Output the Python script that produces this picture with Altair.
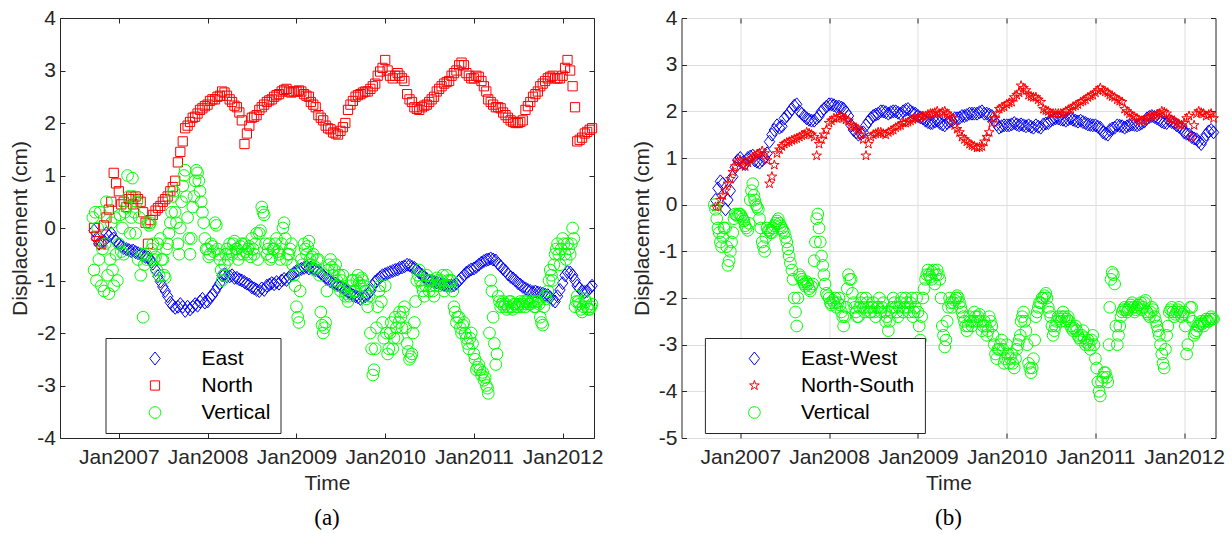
import altair as alt
import pandas as pd

# ---------------- data ----------------
# East / North components: samples on the 1st, 11th, 21st of each month,
# 2006-09-21 .. 2012-05-01  (203 values each)
EAST_A = [
    -0.05, -0.2, -0.3, -0.28, -0.25, -0.1, -0.15, -0.1, -0.2, -0.25,
    -0.3, -0.35, -0.38, -0.4, -0.42, -0.44, -0.43, -0.46, -0.48, -0.5, -0.52, -0.55,
    -0.56, -0.6, -0.68, -0.8, -0.92, -1.02, -1.12, -1.2, -1.3, -1.42, -1.48, -1.52,
    -1.5, -1.45, -1.5, -1.58, -1.5, -1.55, -1.5, -1.45, -1.48, -1.4, -1.35, -1.42,
    -1.4, -1.32, -1.28, -1.2, -1.12, -1.05, -0.9, -0.88, -0.92, -0.92, -0.9, -0.95,
    -0.95, -0.98, -1.0, -1.03, -1.06, -1.08, -1.13, -1.15, -1.18, -1.2, -1.15, -1.18,
    -1.1, -1.08, -1.05, -1.07, -1.03, -1.06, -1.0, -0.97, -0.99, -0.94, -0.9, -0.86,
    -0.82, -0.8, -0.78, -0.76, -0.74, -0.77, -0.75, -0.77, -0.8, -0.82, -0.86, -0.9,
    -0.95, -0.98, -1.02, -1.05, -1.06, -1.09, -1.12, -1.14, -1.18, -1.22, -1.25, -1.28,
    -1.3, -1.32, -1.35, -1.32, -1.3, -1.27, -1.2, -1.1, -1.02, -0.98, -0.94, -0.9,
    -0.88, -0.86, -0.84, -0.82, -0.8, -0.79, -0.76, -0.75, -0.73, -0.7, -0.71, -0.74,
    -0.76, -0.8, -0.85, -0.89, -0.93, -0.97, -1.0, -1.01, -1.03, -1.04, -1.05, -1.07,
    -1.08, -1.1, -1.1, -1.1, -1.09, -1.06, -1.0, -0.95, -0.9, -0.85, -0.82, -0.79,
    -0.77, -0.74, -0.7, -0.66, -0.63, -0.61, -0.6, -0.58, -0.6, -0.62, -0.68, -0.73,
    -0.78, -0.82, -0.88, -0.93, -0.96, -1.0, -1.05, -1.08, -1.12, -1.15, -1.18, -1.2,
    -1.22, -1.21, -1.23, -1.24, -1.25, -1.27, -1.28, -1.32, -1.37, -1.4, -1.3, -1.18,
    -1.05, -0.9, -0.84, -0.85, -0.9, -1.0, -1.1, -1.15, -1.2, -1.22, -1.2, -1.15,
    -1.1,
]
NORTH_A = [
    0.0, -0.15, -0.25, -0.3, 0.05, 0.2, 0.35, 0.5, 1.05, 0.85,
    0.7, 0.45, 0.5, 0.4, 0.55, 0.6, 0.45, 0.6, 0.55, 0.5, 0.3, 0.1,
    -0.3, 0.15, 0.25, 0.33, 0.38, 0.42, 0.5, 0.55, 0.6, 0.7, 0.78, 0.9,
    1.25, 1.45, 1.65, 1.9, 1.95, 2.02, 2.1, 2.12, 2.18, 2.25, 2.28, 2.32,
    2.35, 2.42, 2.45, 2.45, 2.5, 2.52, 2.6, 2.58, 2.52, 2.45, 2.4, 2.33,
    2.3, 2.2, 2.05, 1.6, 1.8, 1.95, 2.1, 2.12, 2.15, 2.25, 2.3, 2.35,
    2.4, 2.43, 2.45, 2.5, 2.53, 2.55, 2.6, 2.63, 2.65, 2.6, 2.58, 2.6,
    2.6, 2.62, 2.6, 2.55, 2.52, 2.5, 2.4, 2.35, 2.3, 2.15, 2.1, 2.05,
    1.95, 1.9, 1.88, 1.82, 1.8, 1.78, 1.85, 1.92, 2.0, 2.25, 2.35, 2.42,
    2.5, 2.53, 2.55, 2.58, 2.6, 2.6, 2.65, 2.7, 2.75, 2.9, 2.98, 3.05,
    3.2, 3.0, 2.9, 2.85, 2.9, 2.95, 2.9, 2.85, 2.8, 2.55, 2.45, 2.4,
    2.3, 2.27, 2.25, 2.3, 2.33, 2.35, 2.4, 2.45, 2.5, 2.6, 2.65, 2.7,
    2.75, 2.78, 2.8, 2.9, 2.95, 3.0, 3.1, 3.15, 3.1, 2.95, 2.9, 2.85,
    2.85, 2.9, 2.88, 2.8, 2.7, 2.6, 2.45, 2.4, 2.35, 2.3, 2.3, 2.28,
    2.2, 2.15, 2.1, 2.05, 2.02, 2.0, 2.0, 2.02, 2.05, 2.25, 2.32, 2.4,
    2.5, 2.55, 2.6, 2.7, 2.75, 2.8, 2.85, 2.88, 2.9, 2.85, 2.85, 2.85,
    2.9, 3.05, 3.2, 3.0, 2.7, 2.3, 1.65, 1.68, 1.72, 1.8, 1.83, 1.87,
    1.9,
]
EW_B = [
    0.1, 0.35, 0.5, 0.45, -0.1, 0.1, 0.3, 0.6, 0.8, 0.95,
    1.0, 0.9, 0.87, 1.0, 1.03, 1.05, 0.95, 0.92, 0.9, 0.95, 1.0, 1.1,
    1.35, 1.5, 1.6, 1.7, 1.65, 1.68, 1.85, 1.9, 1.97, 2.05, 2.12, 2.15,
    2.0, 1.95, 1.9, 1.85, 1.82, 1.8, 1.8, 1.85, 1.9, 2.0, 2.05, 2.1,
    2.15, 2.15, 2.13, 2.1, 2.1, 2.08, 2.05, 1.98, 1.9, 1.7, 1.6, 1.55,
    1.5, 1.52, 1.55, 1.7, 1.78, 1.85, 1.9, 1.93, 1.95, 2.0, 2.0, 1.98,
    1.95, 1.98, 2.0, 2.0, 1.97, 1.95, 2.0, 2.03, 2.05, 2.0, 1.97, 1.95,
    1.9, 1.87, 1.85, 1.8, 1.77, 1.75, 1.75, 1.78, 1.8, 1.75, 1.72, 1.7,
    1.75, 1.78, 1.8, 1.85, 1.85, 1.86, 1.9, 1.9, 1.92, 1.95, 1.95, 1.95,
    1.95, 1.98, 2.0, 1.95, 1.95, 1.93, 1.9, 1.8, 1.72, 1.65, 1.68, 1.7,
    1.7, 1.7, 1.72, 1.75, 1.72, 1.7, 1.72, 1.7, 1.68, 1.7, 1.67, 1.65,
    1.7, 1.67, 1.65, 1.72, 1.74, 1.75, 1.8, 1.83, 1.85, 1.85, 1.83, 1.82,
    1.8, 1.83, 1.85, 1.82, 1.8, 1.78, 1.8, 1.77, 1.75, 1.72, 1.71, 1.7,
    1.7, 1.67, 1.65, 1.55, 1.52, 1.5, 1.6, 1.63, 1.65, 1.7, 1.69, 1.68,
    1.65, 1.68, 1.7, 1.72, 1.71, 1.7, 1.72, 1.75, 1.78, 1.85, 1.88, 1.9,
    1.88, 1.85, 1.82, 1.78, 1.76, 1.75, 1.8, 1.77, 1.75, 1.7, 1.67, 1.65,
    1.55, 1.52, 1.5, 1.45, 1.42, 1.4, 1.35, 1.3, 1.4, 1.5, 1.57, 1.6,
    1.55,
]
NS_B = [
    -0.05, -0.05, 0.1, 0.2, 0.3, 0.45, 0.55, 0.7, 0.82, 0.92,
    0.95, 0.85, 0.82, 0.9, 0.97, 1.0, 1.05, 1.08, 1.1, 1.15, 1.1, 0.95,
    0.45, 0.6, 0.85, 1.1, 1.18, 1.25, 1.3, 1.33, 1.35, 1.38, 1.4, 1.42,
    1.45, 1.48, 1.5, 1.55, 1.53, 1.5, 1.45, 1.05, 1.3, 1.4, 1.5, 1.6,
    1.75, 1.8, 1.85, 1.85, 1.88, 1.9, 1.85, 1.82, 1.8, 1.7, 1.68, 1.65,
    1.6, 1.5, 1.4, 1.05, 1.3, 1.45, 1.5, 1.52, 1.55, 1.55, 1.52, 1.5,
    1.55, 1.58, 1.6, 1.65, 1.68, 1.7, 1.75, 1.75, 1.77, 1.8, 1.83, 1.85,
    1.85, 1.88, 1.9, 1.9, 1.93, 1.95, 1.95, 1.97, 2.0, 1.95, 1.98, 2.0,
    1.95, 1.9, 1.85, 1.7, 1.62, 1.55, 1.45, 1.4, 1.35, 1.3, 1.27, 1.25,
    1.22, 1.23, 1.25, 1.35, 1.45, 1.55, 1.75, 1.85, 1.95, 2.05, 2.08, 2.1,
    2.15, 2.18, 2.2, 2.3, 2.35, 2.4, 2.55, 2.5, 2.45, 2.35, 2.32, 2.3,
    2.3, 2.25, 2.2, 2.05, 2.02, 2.0, 1.95, 1.95, 1.95, 1.95, 1.95, 1.95,
    2.0, 2.03, 2.05, 2.1, 2.12, 2.15, 2.2, 2.22, 2.25, 2.3, 2.33, 2.35,
    2.4, 2.45, 2.5, 2.45, 2.42, 2.4, 2.35, 2.32, 2.3, 2.25, 2.22, 2.2,
    2.05, 2.0, 1.95, 1.9, 1.88, 1.85, 1.8, 1.8, 1.8, 1.85, 1.88, 1.9,
    1.9, 1.93, 1.95, 2.0, 1.98, 1.95, 1.85, 1.82, 1.8, 1.75, 1.72, 1.7,
    1.75, 1.85, 1.9, 1.45, 1.7, 1.95, 2.0, 1.97, 1.95, 1.9, 1.93, 1.95,
    1.85,
]
# Vertical components: samples on the 1st, 6th, 11th, 16th, 21st, 26th of each month,
# 2006-09-16 .. 2012-05-01  (406 values each)
VERT_A = [
    0.2, -0.8, 0.3,
    -1.0, 0.0, -0.6, 0.3, -1.1, -0.4,  -1.2, -0.3, 0.5, -0.9, -1.25, -0.6,
    0.1, -0.8, -1.1, 0.2, -0.5, -1.0,
    -0.3, 0.25, -0.45, 0.0, -0.5, 0.3,  0.4, 1.0, 0.6, -0.1, 0.2, 0.95,
    0.6, 0.3, -0.1, 0.5, -0.6, 0.2,  -0.9, -0.5, -1.7, -0.7, -0.5, -0.6,
    0.1, 0.05, 0.1, -0.4, -0.3, -0.6,  -0.55, -0.8, -0.3, -0.9, -0.2, -0.6,
    -0.6, -0.9, -0.95, -0.4, -0.3, -0.1,  0.1, 0.3, 0.6, 0.7, 0.3, 0.1,
    -0.3, -0.5, 0.0, 0.5, 0.8, 1.0,  1.1, 0.6, 0.2, -0.2, -0.5, -0.2,
    0.4, 0.6, 0.9, 1.1, 1.05, 0.9,  0.7, 0.5, 0.3, 0.1, -0.2, -0.4,
    -0.4, -0.55, -0.5, -0.3, -0.35, -0.45,  0.1, 0.05, -0.4, -0.5, -0.6, -0.8,
    -1.0, -0.9, -0.7, -0.5, -0.4, -0.6,  -0.3, -0.45, -0.5, -0.3, -0.25, -0.4,
    -0.4, -0.6, -0.5, -0.35, -0.3, -0.5,  -0.3, -0.45, -0.5, -0.4, -0.35, -0.55,
    -0.2, -0.4, -0.5, -0.3, -0.1, -0.6,  -0.1, -0.05, 0.4, 0.3, 0.25, -0.3,
    -0.5, -0.4, -0.3, -0.6, -0.55, -0.4,  -0.4, -0.3, -0.2, -0.45, -0.5, -0.6,
    -0.3, 0.0, 0.1, -0.2, -0.6, -0.5,  -0.5, -0.4, -0.3, -0.7, -0.9, -1.1,
    -1.5, -1.7, -1.8, -1.2, -0.6, -0.7,  -0.3, -0.4, -0.5, -0.35, -0.25, -0.6,
    -0.7, -0.55, -0.5, -0.8, -0.75, -0.6,  -0.6, -0.9, -1.6, -1.85, -2.0, -1.9,
    -1.8, -1.2, -0.8, -0.7, -0.6, -0.75,  -0.9, -0.8, -0.7, -1.0, -1.1, -0.9,
    -1.2, -1.0, -0.9, -1.15, -1.3, -1.25,  -1.4, -1.3, -1.1, -1.0, -1.0, -1.2,
    -1.2, -1.0, -0.9, -1.05, -1.1, -0.95,  -1.0, -1.1, -1.2, -1.35, -1.5, -1.3,
    -2.0, -2.3, -2.8, -2.7, -2.3, -1.9,  -1.5, -1.2, -1.1, -1.4, -1.8, -2.1,
    -1.1, -2.0, -2.4, -2.3, -2.0, -1.8,  -2.3, -2.1, -1.7, -1.9, -2.1, -1.8,
    -1.6, -1.7, -1.9, -1.6, -1.5, -1.9,  -2.2, -2.35, -2.5, -2.45, -2.4, -2.0,
    -1.8, -1.4, -1.0, -0.9, -0.8, -1.0,  -1.1, -1.2, -1.3, -1.1, -0.9, -1.0,
    -1.2, -1.1, -1.0, -1.2, -1.3, -1.1,  -0.95, -1.0, -1.1, -1.05, -1.0, -0.9,
    -1.2, -1.1, -0.9, -1.0, -1.1, -1.0,  -1.0, -1.2, -1.5, -1.6, -1.8, -1.7,
    -1.7, -1.9, -2.0, -1.85, -1.8, -2.0,  -2.1, -2.2, -2.3, -2.1, -2.0, -2.2,
    -2.4, -2.5, -2.7, -2.65, -2.6, -2.7,  -2.8, -2.75, -2.9, -2.85, -3.0, -3.05,
    -3.15, -2.0, -1.0, -1.2, -1.7, -2.2,  -2.6, -2.4, -1.3, -1.4, -1.5, -1.45,
    -1.4, -1.5, -1.45, -1.55, -1.5, -1.4,  -1.4, -1.5, -1.55, -1.45, -1.45, -1.5,
    -1.5, -1.45, -1.4, -1.5, -1.45, -1.4,  -1.5, -1.4, -1.35, -1.45, -1.45, -1.4,
    -1.4, -1.5, -1.5, -1.4, -1.4, -1.45,  -1.7, -1.8, -1.85, -1.5, -1.3, -1.35,
    -1.2, -1.0, -0.8, -0.9, -1.0, -0.7,  -0.5, -0.4, -0.3, -0.5, -0.7, -0.4,
    -0.2, -0.3, -0.5, -0.6, -0.3, -0.4,  -0.5, -0.3, 0.0, -0.2, -1.5, -1.4,
    -1.3, -1.4, -1.45, -1.55, -1.6, -1.5,  -1.35, -1.4, -1.5, -1.55, -1.55, -1.5,
    -1.45,
]
VERT_B = [
    0.0, -0.1, -0.3,
    -0.5, -0.6, -0.8, -0.9, -0.7, -0.5,  -0.5, -0.9, -1.3, -1.2, -1.0, -0.8,
    -0.6, -0.3, -0.2, -0.22, -0.25, -0.2,
    -0.2, -0.25, -0.3, -0.35, -0.45, -0.5,  -0.55, -0.4, 0.1, 0.3, 0.45, 0.2,
    0.1, 0.0, -0.05, -0.1, -0.3, -0.5,  -0.8, -0.9, -1.0, -0.7, -0.5, -0.55,
    -0.55, -0.6, -0.6, -0.5, -0.45, -0.4,  -0.35, -0.3, -0.4, -0.45, -0.5, -0.55,
    -0.6, -0.7, -0.8, -0.95, -1.1, -1.25,  -1.4, -1.6, -2.0, -2.3, -2.6, -2.0,
    -1.5, -1.55, -1.6, -1.65, -1.7, -1.75,  -1.65, -1.7, -1.8, -1.85, -1.75, -1.7,
    -1.2, -0.8, -0.3, -0.2, -0.5, -0.8,  -1.1, -1.3, -1.5, -1.7, -1.9, -1.95,
    -2.0, -2.1, -2.15, -2.05, -2.1, -2.0,  -2.2, -2.1, -2.0, -2.15, -2.3, -2.4,
    -2.6, -2.4, -2.2, -1.8, -1.5, -1.6,  -1.6, -1.9, -2.1, -2.2, -2.3, -2.4,
    -2.4, -2.2, -2.1, -2.0, -2.2, -2.3,  -2.0, -2.1, -2.2, -2.3, -2.3, -2.2,
    -2.1, -2.3, -2.4, -2.2, -2.2, -2.0,  -2.3, -2.2, -2.1, -2.3, -2.5, -2.4,
    -2.7, -2.5, -2.3, -2.2, -2.0, -2.1,  -2.2, -2.3, -2.4, -2.2, -2.1, -2.0,
    -2.3, -2.2, -2.0, -2.1, -2.2, -2.3,  -2.1, -2.0, -2.4, -2.3, -2.2, -2.0,
    -2.3, -2.6, -2.9, -2.4, -2.0, -1.8,  -1.6, -1.5, -1.4, -1.5, -1.55, -1.6,
    -1.45, -1.4, -1.7, -1.5, -1.4, -1.5,  -1.6, -2.0, -2.6, -2.8, -3.05, -2.9,
    -2.5, -2.2, -2.0, -2.1, -2.2, -2.1,  -2.05, -2.0, -1.95, -2.0, -2.1, -2.2,
    -2.3, -2.4, -2.5, -2.6, -2.7, -2.6,  -2.4, -2.5, -2.6, -2.5, -2.3, -2.4,
    -2.5, -2.4, -2.35, -2.5, -2.7, -2.6,  -2.5, -2.6, -2.8, -2.7, -2.4, -2.5,
    -2.6, -2.8, -3.0, -3.2, -3.3, -3.1,  -3.1, -3.0, -2.9, -3.1, -3.4, -3.3,
    -3.0, -3.2, -3.4, -3.3, -3.2, -3.4,  -3.5, -3.3, -3.1, -3.0, -2.9, -2.8,
    -2.5, -2.4, -2.3, -2.5, -2.7, -3.0,  -3.4, -3.5, -3.6, -3.5, -3.3, -2.9,
    -2.4, -2.3, -2.2, -2.1, -2.1, -2.0,  -2.0, -1.95, -1.9, -2.0, -2.2, -2.3,
    -2.4, -2.6, -2.8, -2.7, -2.6, -2.5,  -2.4, -2.45, -2.5, -2.4, -2.3, -2.4,
    -2.5, -2.45, -2.4, -2.5, -2.6, -2.65,  -2.7, -2.65, -2.6, -2.7, -2.8, -2.85,
    -2.9, -2.8, -2.7, -2.85, -3.0, -2.95,  -2.9, -3.0, -3.1, -2.9, -2.8, -3.0,
    -3.3, -3.5, -3.8, -4.0, -4.1, -3.8,  -3.7, -3.6, -3.6, -3.7, -3.8, -3.0,
    -2.2, -1.6, -1.45, -1.5, -1.7, -2.6,  -3.0, -2.8, -2.6, -2.4, -2.3, -2.25,
    -2.2, -2.25, -2.3, -2.25, -2.2, -2.15,  -2.1, -2.2, -2.3, -2.25, -2.2, -2.15,
    -2.15, -2.1, -2.25, -2.2, -2.1, -2.05,  -2.3, -2.35, -2.4, -2.3, -2.2, -2.25,
    -2.4, -2.5, -2.6, -2.7, -2.8, -3.0,  -3.2, -3.4, -3.5, -3.1, -2.8, -2.6,
    -2.3, -2.25, -2.2, -2.3, -2.4, -2.35,  -2.3, -2.25, -2.2, -2.3, -2.4, -2.35,
    -2.3, -2.6, -3.2, -3.0, -2.4, -2.2,  -2.2, -2.5, -2.8, -2.75, -2.7, -2.6,
    -2.6, -2.55, -2.5, -2.55, -2.6, -2.5,  -2.45, -2.5, -2.5, -2.45, -2.4, -2.45,
    -2.45,
]

NAMES_A = ["East", "North", "Vertical"]
NAMES_B = ["East-West", "North-South", "Vertical"]
COLORS = ["#0000ff", "#ff0000", "#00ff00"]
YEAR_TICKS = [2007, 2008, 2009, 2010, 2011, 2012]
YTICKS_A = [-4, -3, -2, -1, 0, 1, 2, 3, 4]
YTICKS_B = [-5, -4, -3, -2, -1, 0, 1, 2, 3, 4]


def sample_dates(days, first, last):
    out = []
    for y in range(2006, 2013):
        for m in range(1, 13):
            for d in days:
                s = f"{y}-{m:02d}-{d:02d}"
                if first <= s <= last:
                    out.append(s)
    return out


DATES_3 = sample_dates((1, 11, 21), "2006-09-21", "2012-05-01")
DATES_6 = sample_dates((1, 6, 11, 16, 21, 26), "2006-09-16", "2012-05-01")

# ---------------- styling ----------------
FONT = "Liberation Sans"
TXT = "#262626"
DIAMOND = "M0,-1L0.8,0L0,1L-0.8,0Z"
SQUARE = "M-0.71,-0.71L0.71,-0.71L0.71,0.71L-0.71,0.71Z"
CIRCLE = "M0.9,0A0.9,0.9,0,1,1,-0.9,0A0.9,0.9,0,1,1,0.9,0Z"
STAR = ("M0,-0.78L0.176,-0.243L0.742,-0.241L0.285,0.093L0.459,0.631L0,0.3"
        "L-0.459,0.631L-0.285,0.093L-0.742,-0.241L-0.176,-0.243Z")


def frame(names, series, dates):
    rows = []
    for name, vals, ds in zip(names, series, dates):
        for d, v in zip(ds, vals):
            rows.append({"date": d, "value": v, "series": name})
    return pd.DataFrame(rows)


def make_panel(df, names, shapes, ydom, yticks, grid, legend_x, caption):
    xs = alt.Scale(domain=[alt.DateTime(year=2006, month=5, date=4),
                           alt.DateTime(year=2012, month=5, date=9)])
    ys = alt.Scale(domain=ydom, nice=False, zero=False)
    xvals = [alt.DateTime(year=y, month=1, date=1) for y in YEAR_TICKS]
    legend = alt.Legend(title=None, orient="none", legendX=legend_x, legendY=320,
                        direction="vertical", strokeColor=TXT, fillColor="white",
                        padding=10, labelFont=FONT, labelFontSize=21, labelColor="#000000",
                        symbolSize=169, symbolStrokeWidth=1, symbolOffset=29,
                        labelOffset=36, rowPadding=5)
    main = alt.Chart(df).mark_point(filled=False, size=169, strokeWidth=1, opacity=1).encode(
        x=alt.X("date:T", scale=xs, axis=alt.Axis(
            orient="bottom", values=xvals, format="%b%Y", ticks=False, tickSize=0,
            domain=False, grid=grid, gridColor="#dedede", gridWidth=1,
            labelFont=FONT, labelFontSize=21, labelColor=TXT, labelPadding=8,
            labelFlush=False, labelOverlap=False, title="Time", titleFont=FONT,
            titleFontSize=21, titleFontWeight="normal", titleColor=TXT, titlePadding=5)),
        y=alt.Y("value:Q", scale=ys, axis=alt.Axis(
            orient="left", values=yticks, labelExpr="'' + datum.value", ticks=False,
            tickSize=0, domain=False, grid=grid, gridColor="#dedede", gridWidth=1,
            labelFont=FONT, labelFontSize=21, labelColor=TXT, labelPadding=4.5,
            title="Displacement (cm)", titleFont=FONT, titleFontSize=21,
            titleFontWeight="normal", titleColor=TXT, titlePadding=6)),
        color=alt.Color("series:N", scale=alt.Scale(domain=names, range=COLORS), legend=legend),
        shape=alt.Shape("series:N", scale=alt.Scale(domain=names, range=shapes), legend=legend),
    )

    def tick_axis(orient, vals):
        return alt.Axis(orient=orient, values=vals, offset=-5, tickSize=5, ticks=True,
                        tickColor=TXT, tickWidth=1, labels=False, domain=False,
                        grid=False, title=None)

    src = df.head(1)
    t1 = alt.Chart(src).mark_point(opacity=0).encode(
        x=alt.X("date:T", scale=xs, axis=tick_axis("bottom", xvals)),
        y=alt.Y("value:Q", scale=ys, axis=tick_axis("left", yticks)))
    t2 = alt.Chart(src).mark_point(opacity=0).encode(
        x=alt.X("date:T", scale=xs, axis=tick_axis("top", xvals)),
        y=alt.Y("value:Q", scale=ys, axis=tick_axis("right", yticks)))
    return alt.layer(main, t1, t2).resolve_axis(x="independent", y="independent").properties(
        width=534, height=420,
        title=alt.TitleParams(caption, orient="bottom", font="Liberation Serif", fontSize=23,
                              fontWeight="normal", color="#000000", offset=14, anchor="middle"))


df_a = frame(NAMES_A, [EAST_A, NORTH_A, VERT_A], [DATES_3, DATES_3, DATES_6])
df_b = frame(NAMES_B, [EW_B, NS_B, VERT_B], [DATES_3, DATES_3, DATES_6])

pa = make_panel(df_a, NAMES_A, [DIAMOND, SQUARE, CIRCLE], [-4, 4], YTICKS_A, False, 45.5, "(a)")
pb = make_panel(df_b, NAMES_B, [DIAMOND, STAR, CIRCLE], [-5, 4], YTICKS_B, True, 23.4, "(b)")

chart = alt.hconcat(pa, pb, spacing=87.5, bounds="flush").resolve_scale(
    x="independent", y="independent", color="independent", shape="independent"
).properties(
    padding={"left": 9, "top": 6, "right": 5, "bottom": 5}
).configure_view(stroke=TXT, strokeWidth=1)

chart.save("out.html", embed_options={"renderer": "svg", "actions": False})
